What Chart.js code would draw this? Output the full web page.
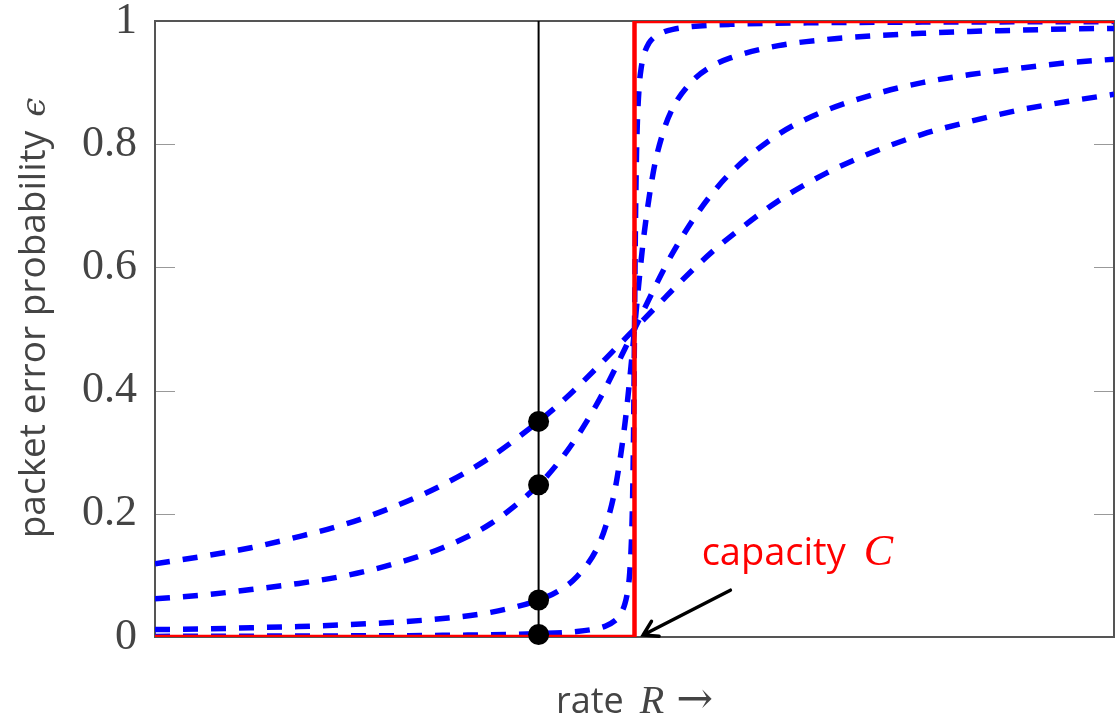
<!DOCTYPE html>
<html>
<head>
<meta charset="utf-8">
<script src="https://cdn.jsdelivr.net/npm/chart.js@4/dist/chart.umd.min.js"></script>
<style>
  html, body { margin: 0; padding: 0; background: #fff; }
  #wrap { width: 1116px; height: 718px; }
</style>
</head>
<body>
<div id="wrap"><canvas id="errChart" width="1116" height="718"></canvas></div>
<script>
// values (rate normalised so that 0..1 spans the plot, C = 0.5)
const rate = [0, 0.05, 0.1, 0.15, 0.2, 0.25, 0.3, 0.35, 0.4, 0.42, 0.44, 0.46, 0.47, 0.48, 0.49, 0.495,
  0.5, 0.505, 0.51, 0.52, 0.53, 0.54, 0.56, 0.58, 0.6, 0.65, 0.7, 0.75, 0.8, 0.85, 0.9, 0.95, 1];
const epsShort = [0.119, 0.131, 0.145, 0.163, 0.184, 0.212, 0.247, 0.292, 0.350, 0.376, 0.405, 0.436, 0.452, 0.468, 0.484, 0.492,
  0.5, 0.508, 0.516, 0.532, 0.548, 0.564, 0.595, 0.624, 0.650, 0.708, 0.753, 0.788, 0.816, 0.837, 0.855, 0.869, 0.881];
const epsMid = [0.062, 0.068, 0.077, 0.087, 0.100, 0.119, 0.145, 0.184, 0.247, 0.282, 0.325, 0.376, 0.405, 0.436, 0.468, 0.484,
  0.5, 0.516, 0.532, 0.564, 0.595, 0.624, 0.675, 0.718, 0.753, 0.816, 0.855, 0.881, 0.900, 0.913, 0.923, 0.932, 0.938];
const epsLong = [0.012, 0.013, 0.015, 0.017, 0.020, 0.024, 0.030, 0.040, 0.060, 0.074, 0.098, 0.141, 0.180, 0.242, 0.346, 0.418,
  0.5, 0.582, 0.654, 0.758, 0.820, 0.859, 0.902, 0.926, 0.940, 0.960, 0.970, 0.976, 0.980, 0.983, 0.985, 0.987, 0.988];

const rateSharp = [0, 0.1, 0.2, 0.3, 0.4, 0.44, 0.46, 0.47, 0.48, 0.485, 0.49, 0.493, 0.495, 0.497, 0.498, 0.499,
  0.5, 0.501, 0.502, 0.503, 0.505, 0.507, 0.51, 0.515, 0.52, 0.53, 0.54, 0.56, 0.6, 0.7, 0.8, 0.9, 1];
const epsHuge = [0.001, 0.0014, 0.0018, 0.0027, 0.0054, 0.009, 0.0135, 0.018, 0.027, 0.036, 0.054, 0.076, 0.104, 0.164, 0.224, 0.331,
  0.5, 0.669, 0.776, 0.836, 0.896, 0.924, 0.946, 0.964, 0.973, 0.982, 0.9865, 0.991, 0.9946, 0.9973, 0.9982, 0.9986, 0.999];

const capRate = [0, 0.5, 0.5, 1];
const capEps = [0, 0, 1, 1];

const opRate = 0.4;
const opEps = [0.35, 0.247, 0.06, 0.004];

const yTicks = [0, 0.2, 0.4, 0.6, 0.8, 1];

const capLabelPos = { x: 0.57, y: 0.117 };
const arrowFrom = { x: 0.6, y: 0.076 };
const arrowTo = { x: 0.509, y: 0.0 };

const pts = (xs, ys) => ys.map((v, i) => ({ x: Array.isArray(xs) ? xs[i] : xs, y: v }));

function curve(xs, ys) {
  return {
    data: pts(xs, ys),
    borderColor: '#0000ff',
    borderWidth: 5.5,
    borderDash: [15, 13],
    borderCapStyle: 'butt',
    pointRadius: 0,
    cubicInterpolationMode: 'monotone',
    order: 4
  };
}

const framePlugin = {
  id: 'frame',
  beforeDatasetsDraw(chart) {
    const { ctx, chartArea: a, scales: { y } } = chart;
    ctx.save();
    ctx.strokeStyle = '#999';
    ctx.lineWidth = 1.2;
    yTicks.forEach(v => {
      if (v === 0 || v === 1) return;
      const py = Math.round(y.getPixelForValue(v)) + 0.5;
      ctx.beginPath();
      ctx.moveTo(a.left, py); ctx.lineTo(a.left + 20, py);
      ctx.moveTo(a.right, py); ctx.lineTo(a.right - 20, py);
      ctx.stroke();
    });
    ctx.strokeStyle = '#555';
    ctx.lineWidth = 2;
    ctx.strokeRect(a.left, a.top, a.right - a.left, a.bottom - a.top);
    ctx.restore();
  }
};

const textPlugin = {
  id: 'texts',
  afterDraw(chart) {
    const { ctx, chartArea: a, scales: { x, y } } = chart;
    ctx.save();
    ctx.textBaseline = 'alphabetic';
    ctx.textAlign = 'left';

    // y title
    ctx.fillStyle = '#444';
    ctx.translate(45, (a.top + a.bottom) / 2 - 11);
    ctx.rotate(-Math.PI / 2);
    ctx.font = '37px "Open Sans"';
    const t1 = 'packet error probability';
    const w1 = ctx.measureText(t1).width;
    ctx.font = 'italic 34px "DejaVu Serif"';
    const w2 = ctx.measureText('ϵ').width;
    let x0 = -(w1 + 14 + w2) / 2;
    ctx.font = '37px "Open Sans"';
    ctx.fillText(t1, x0, 0);
    ctx.font = 'italic 34px "DejaVu Serif"';
    ctx.fillText('ϵ', x0 + w1 + 14, 0);
    ctx.setTransform(1, 0, 0, 1, 0, 0);

    // x title
    ctx.font = '36px "Open Sans"';
    const r1 = ctx.measureText('rate').width;
    ctx.font = 'italic 40px "Liberation Serif"';
    const r2 = ctx.measureText('R').width;
    ctx.font = '44px "DejaVu Serif"';
    const r3 = ctx.measureText('→').width;
    let xs = (a.left + a.right) / 2 - (r1 + 16 + r2 + 12 + r3) / 2;
    ctx.font = '36px "Open Sans"';
    ctx.fillText('rate', xs, 713);
    ctx.font = 'italic 40px "Liberation Serif"';
    ctx.fillText('R', xs + r1 + 16, 713);
    ctx.font = '44px "DejaVu Serif"';
    ctx.fillText('→', xs + r1 + 16 + r2 + 12, 713);

    // capacity label
    ctx.fillStyle = '#ff0000';
    const lx = x.getPixelForValue(capLabelPos.x);
    const ly = y.getPixelForValue(capLabelPos.y);
    ctx.font = '38px "Open Sans"';
    const c1 = ctx.measureText('capacity').width;
    ctx.fillText('capacity', lx, ly);
    ctx.font = 'italic 44px "Liberation Serif"';
    ctx.fillText('C', lx + c1 + 18, ly);

    // arrow
    const ax = x.getPixelForValue(arrowFrom.x), ay = y.getPixelForValue(arrowFrom.y);
    const bx = x.getPixelForValue(arrowTo.x), by = y.getPixelForValue(arrowTo.y) - 2;
    const ang = Math.atan2(by - ay, bx - ax);
    ctx.strokeStyle = '#000';
    ctx.lineWidth = 3.5;
    ctx.lineCap = 'round';
    ctx.beginPath();
    ctx.moveTo(ax, ay); ctx.lineTo(bx, by);
    ctx.moveTo(bx - 16 * Math.cos(ang - 0.55), by - 16 * Math.sin(ang - 0.55));
    ctx.lineTo(bx, by);
    ctx.lineTo(bx - 16 * Math.cos(ang + 0.55), by - 16 * Math.sin(ang + 0.55));
    ctx.stroke();
    ctx.restore();
  }
};

new Chart(document.getElementById('errChart'), {
  type: 'line',
  data: {
    datasets: [
      {
        data: pts(opRate, opEps),
        showLine: false,
        pointRadius: 10.5,
        pointBackgroundColor: '#000',
        pointBorderWidth: 0,
        clip: false,
        order: 0
      },
      {
        data: [{ x: opRate, y: 0 }, { x: opRate, y: 1 }],
        borderColor: '#000',
        borderWidth: 2,
        pointRadius: 0,
        order: 1
      },
      {
        data: pts(capRate, capEps),
        borderColor: '#ff0000',
        borderWidth: 4.5,
        pointRadius: 0,
        order: 2
      },
      curve(rate, epsShort),
      curve(rate, epsMid),
      curve(rate, epsLong),
      curve(rateSharp, epsHuge)
    ]
  },
  options: {
    responsive: false,
    animation: false,
    layout: { autoPadding: false, padding: { top: 21, right: 2, left: 0, bottom: 0 } },
    plugins: { legend: { display: false }, tooltip: { enabled: false } },
    scales: {
      x: {
        type: 'linear', min: 0, max: 1,
        ticks: { display: false },
        grid: { display: false },
        border: { display: false },
        afterFit: s => { s.height = 81; }
      },
      y: {
        min: 0, max: 1,
        afterBuildTicks: s => { s.ticks = yTicks.map(v => ({ value: v })); },
        ticks: {
          color: '#444',
          padding: 18,
          callback: v => String(v),
          font: { family: 'Liberation Serif', size: 44, lineHeight: 0.1 }
        },
        grid: { display: false, drawTicks: false },
        border: { display: false },
        afterFit: s => { s.width = 155; }
      }
    }
  },
  plugins: [framePlugin, textPlugin]
});
</script>
</body>
</html>
